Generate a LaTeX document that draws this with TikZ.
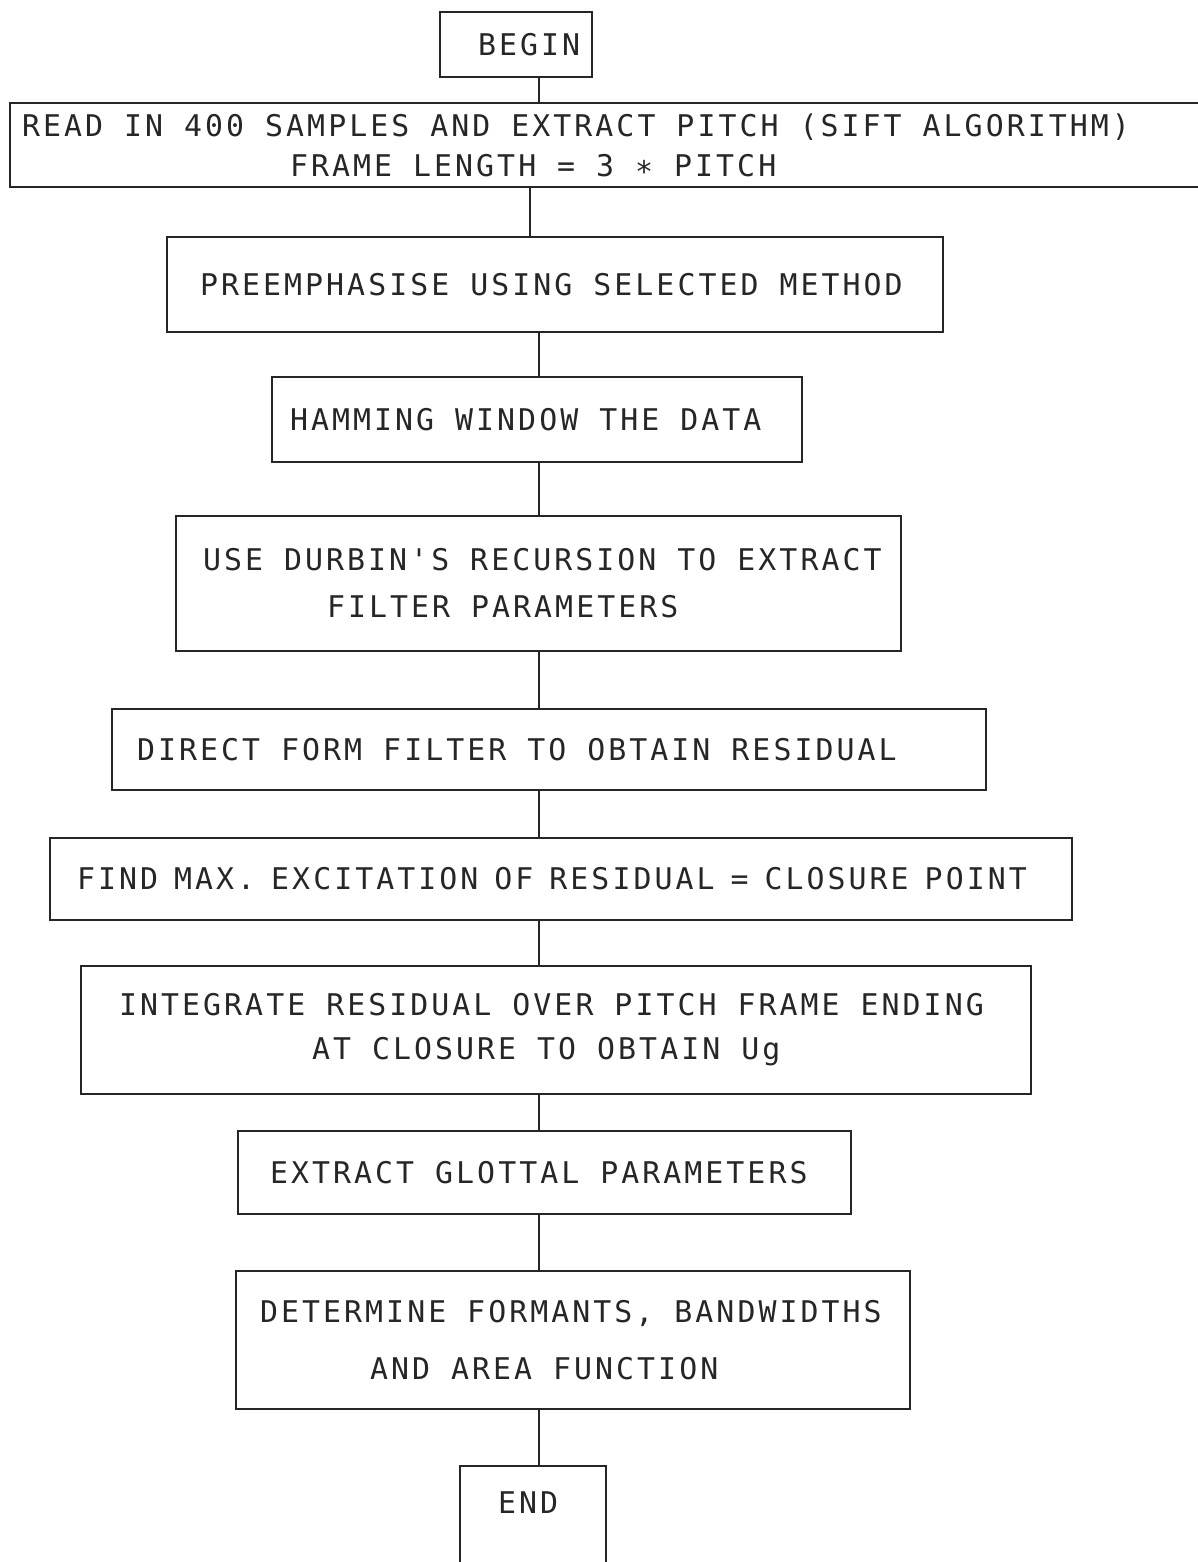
\documentclass[tikz,border=0pt]{standalone}
\usepackage{fontspec}
\newfontfamily\plotter[LetterSpace=10.2]{DejaVu Sans Mono}
\usetikzlibrary{positioning}
\newcommand{\plotfont}{\fontsize{17}{20}\selectfont\plotter}
\newcommand{\txt}[3][0.42cm]{\hspace*{#2}\mbox{\spaceskip=#1\relax #3}}
\tikzset{
  stepbox/.style={rectangle, draw=black!85, line width=0.9pt, align=left, inner xsep=0pt, inner ysep=0pt, text=black!85, font=\plotfont},
  link/.style={draw=black!85, line width=0.8pt}
}
\begin{document}
\begin{tikzpicture}[x=0.02cm, y=-0.02cm]
\useasboundingbox (0,0) rectangle (1197,1562);
\coordinate (spine) at (539,0);
\node[stepbox, text width=3.04cm, minimum height=1.30cm] (begin) at (516,44.5) {\txt{0.76cm}{BEGIN}};
\node[stepbox, text width=24cm, minimum height=1.68cm] (read) at (610,145) {\txt{0.24cm}{READ IN 400 SAMPLES AND EXTRACT PITCH (SIFT ALGORITHM)}\\[2.8pt]\txt{5.6cm}{FRAME LENGTH = 3 ∗ PITCH}};
\node[stepbox, text width=15.52cm, minimum height=1.90cm] (preemph) at (555,284.5) {\txt{0.66cm}{PREEMPHASISE USING SELECTED METHOD}};
\node[stepbox, text width=10.6cm, minimum height=1.70cm] (hamming) at (537,419.5) {\txt{0.36cm}{HAMMING WINDOW THE DATA}};
\node[stepbox, text width=14.5cm, minimum height=2.70cm] (durbin) at (538.5,583.5) {\txt{0.54cm}{USE DURBIN'S RECURSION TO EXTRACT}\\[6.7pt]\txt{3.02cm}{FILTER PARAMETERS}};
\node[stepbox, text width=17.48cm, minimum height=1.62cm] (direct) at (549,749.5) {\txt{0.5cm}{DIRECT FORM FILTER TO OBTAIN RESIDUAL}};
\node[stepbox, text width=20.44cm, minimum height=1.64cm] (closure) at (561,879) {\txt[0.32cm]{0.54cm}{FIND MAX. EXCITATION OF RESIDUAL = CLOSURE POINT}};
\node[stepbox, text width=19cm, minimum height=2.56cm] (integrate) at (556,1030) {\txt{0.76cm}{INTEGRATE RESIDUAL OVER PITCH FRAME ENDING}\\[5pt]\txt{4.62cm}{AT CLOSURE TO OBTAIN Ug}};
\node[stepbox, text width=12.26cm, minimum height=1.66cm] (glottal) at (544.5,1172.5) {\txt{0.64cm}{EXTRACT GLOTTAL PARAMETERS}};
\node[stepbox, text width=13.48cm, minimum height=2.76cm] (formants) at (573,1340) {\txt{0.48cm}{DETERMINE FORMANTS, BANDWIDTHS}\\[12.4pt]\txt{2.68cm}{AND AREA FUNCTION}};
\node[stepbox, text width=2.92cm, text height=0.96cm, text depth=1.24cm, anchor=north] (end) at (533,1465) {\txt{0.76cm}{END}};
\draw[link] (begin.south -| spine) -- (read.north -| spine);
\draw[link] ([xshift=-0.18cm]read.south -| spine) -- ([xshift=-0.18cm]preemph.north -| spine);
\draw[link] (preemph.south -| spine) -- (hamming.north -| spine);
\draw[link] (hamming.south -| spine) -- (durbin.north -| spine);
\draw[link] (durbin.south -| spine) -- (direct.north -| spine);
\draw[link] (direct.south -| spine) -- (closure.north -| spine);
\draw[link] (closure.south -| spine) -- (integrate.north -| spine);
\draw[link] (integrate.south -| spine) -- (glottal.north -| spine);
\draw[link] (glottal.south -| spine) -- (formants.north -| spine);
\draw[link] (formants.south -| spine) -- (end.north -| spine);
\end{tikzpicture}
\end{document}
